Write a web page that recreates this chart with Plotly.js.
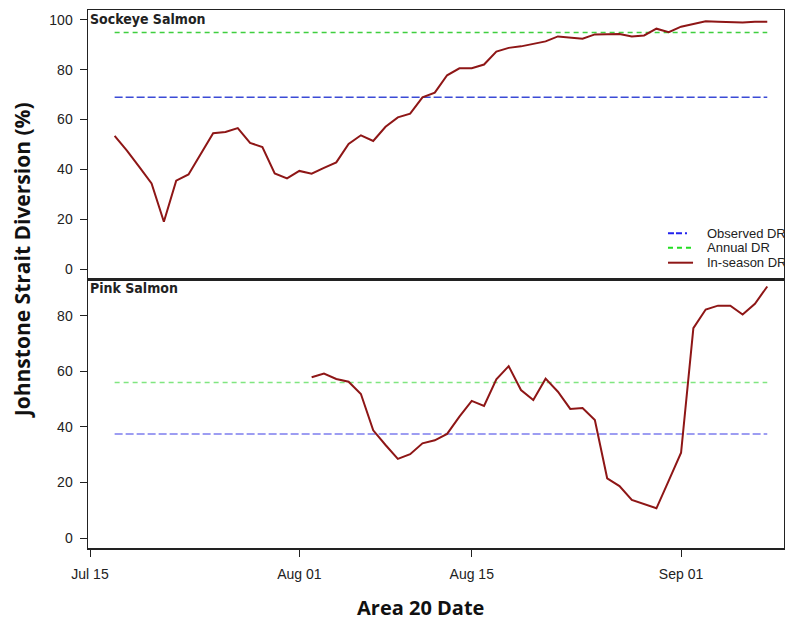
<!DOCTYPE html>
<html>
<head>
<meta charset="utf-8">
<script src="https://cdn.plot.ly/plotly-3.0.1.min.js"></script>
<style>
  html, body { margin: 0; padding: 0; background: #fff; }
  #chart { width: 785px; height: 623px; }
</style>
</head>
<body>
<div id="chart"></div>
<script>
// Daily in-season diversion rate estimates (%), Area 20 date
const sockeyeStart = '2013-07-17';
const sockeyeInSeason = [
  53.5, 47.5, 41.0, 34.4, 19.0, 35.5, 38.0, 46.5, 54.5, 55.0, 56.6, 50.6, 49.0, 38.4, 36.4,
  39.4, 38.3, 40.6, 42.8, 50.2, 53.7, 51.4, 57.1, 60.9, 62.4, 68.9, 70.8, 77.8, 80.6, 80.6,
  82.1, 87.3, 88.8, 89.4, 90.5, 91.4, 93.4, 92.9, 92.5, 94.2, 94.2, 94.4, 93.4, 93.8, 96.5, 95.1,
  97.3, 98.4, 99.5, 99.3, 99.2, 99.0, 99.3, 99.3
];
const pinkStart = '2013-08-02';
const pinkInSeason = [
  57.9, 59.2, 57.3, 56.3, 51.9, 38.8, 33.5, 28.5, 30.2, 34.1, 35.2, 37.5, 43.7, 49.4, 47.6,
  57.2, 61.9, 53.3, 49.7, 57.4, 52.7, 46.5, 46.8, 42.5, 21.5, 18.7, 13.7, 12.3, 10.7, 20.7,
  30.7, 75.6, 82.3, 83.7, 83.7, 80.5, 84.4, 90.6
];

// Reference diversion rates drawn across the season
const refSpan = ['2013-07-17', '2013-09-08'];
const sockeyeObservedDR = 69;
const sockeyeAnnualDR = 95;
const pinkObservedDR = 37.5;
const pinkAnnualDR = 56;

const panelTitles = ['Sockeye Salmon', 'Pink Salmon'];
const legendNames = ['Observed DR', 'Annual DR', 'In-season DR'];
const dateTicks = ['2013-07-15', '2013-08-01', '2013-08-15', '2013-09-01'];
const sockeyeTicks = [0, 20, 40, 60, 80, 100];
const pinkTicks = [0, 20, 40, 60, 80];

function dailyDates(start, n) {
  const out = [];
  const d0 = new Date(start + 'T00:00:00Z');
  for (let i = 0; i < n; i++) {
    const d = new Date(d0.getTime() + i * 86400000);
    out.push(d.toISOString().slice(0, 10));
  }
  return out;
}

const RED = '#8e1616';
const SANS = 'Liberation Sans, Arial, sans-serif';
const FRAME = '#222';

const traces = [
  // Sockeye panel (top)
  { x: refSpan, y: [sockeyeAnnualDR, sockeyeAnnualDR], xaxis: 'x2', yaxis: 'y2', mode: 'lines',
    line: { color: '#3fcf3f', width: 1.5, dash: '5px,4px' }, name: legendNames[1] },
  { x: refSpan, y: [sockeyeObservedDR, sockeyeObservedDR], xaxis: 'x2', yaxis: 'y2', mode: 'lines',
    line: { color: '#3b4bd6', width: 1.5, dash: '8px,3px' }, name: legendNames[0] },
  { x: dailyDates(sockeyeStart, sockeyeInSeason.length), y: sockeyeInSeason, xaxis: 'x2', yaxis: 'y2',
    mode: 'lines', line: { color: RED, width: 2 }, name: legendNames[2] },
  // Pink panel (bottom)
  { x: refSpan, y: [pinkAnnualDR, pinkAnnualDR], xaxis: 'x', yaxis: 'y', mode: 'lines',
    line: { color: '#80e680', width: 1.5, dash: '5px,4px' }, name: legendNames[1] },
  { x: refSpan, y: [pinkObservedDR, pinkObservedDR], xaxis: 'x', yaxis: 'y', mode: 'lines',
    line: { color: '#7d7dee', width: 1.5, dash: '8px,3px' }, name: legendNames[0] },
  { x: dailyDates(pinkStart, pinkInSeason.length), y: pinkInSeason, xaxis: 'x', yaxis: 'y',
    mode: 'lines', line: { color: RED, width: 2 }, name: legendNames[2] }
];

const yCommon = {
  ticks: 'outside', ticklen: 7, tickwidth: 1, tickcolor: FRAME,
  showline: true, mirror: true, linecolor: FRAME, linewidth: 1.5,
  showgrid: false, zeroline: false, ticklabelstandoff: 4,
  tickfont: { family: SANS, size: 14, color: '#222' }
};

// Legend: line samples and labels in the lower right of the top panel
const legendRows = [0.5849, 0.5582, 0.5303];
const legendStyles = [
  { color: '#2222ee', dash: '6px,2px,6px,3px,2px,20px' },
  { color: '#22dd22', dash: '5px,4px' },
  { color: RED, dash: 'solid' }
];
const shapes = legendRows.map((y, i) => ({
  type: 'line', xref: 'paper', yref: 'paper', x0: 0.8333, x1: 0.8693, y0: y, y1: y,
  line: { color: legendStyles[i].color, width: 2, dash: legendStyles[i].dash }
}));

const annotations = legendRows.map((y, i) => ({
  xref: 'paper', yref: 'paper', x: 0.8865, y: y, xanchor: 'left', yanchor: 'middle',
  text: legendNames[i], showarrow: false,
  font: { family: SANS, size: 13, color: '#222' }
})).concat([
  { xref: 'paper', yref: 'paper', x: 0.0, y: 1.002, xanchor: 'left', yanchor: 'top',
    text: panelTitles[0], showarrow: false,
    font: { family: 'DejaVu Sans Condensed, DejaVu Sans, sans-serif', size: 14, color: '#222', weight: 'bold' } },
  { xref: 'paper', yref: 'paper', x: 0.0, y: 0.501, xanchor: 'left', yanchor: 'top',
    text: panelTitles[1], showarrow: false,
    font: { family: 'DejaVu Sans Condensed, DejaVu Sans, sans-serif', size: 14, color: '#222', weight: 'bold' } },
  { xref: 'paper', yref: 'paper', x: -0.0948, y: 0.535, xanchor: 'center', yanchor: 'middle',
    textangle: -90, text: 'Johnstone Strait Diversion (%)', showarrow: false,
    font: { family: 'Open Sans, sans-serif', size: 21, color: '#111', weight: 'bold' } },
  { xref: 'paper', yref: 'paper', x: 0.478, y: -0.1115, xanchor: 'center', yanchor: 'middle',
    text: 'Area 20 Date', showarrow: false,
    font: { family: 'Open Sans, sans-serif', size: 20, color: '#111', weight: 'bold' } }
]);

const layout = {
  width: 785, height: 623,
  margin: { l: 88, r: 1, t: 10, b: 75, autoexpand: false },
  paper_bgcolor: '#fff', plot_bgcolor: '#fff',
  showlegend: false,
  xaxis: {
    type: 'date', anchor: 'y', range: ['2013-07-14 20:06', '2013-09-09 08:38'],
    tickvals: dateTicks, tickformat: '%b %d',
    ticks: 'outside', ticklen: 7, tickwidth: 1, tickcolor: FRAME,
    showline: true, mirror: true, linecolor: FRAME, linewidth: 1.5,
    showgrid: false, zeroline: false, ticklabelstandoff: 6,
    tickfont: { family: SANS, size: 14, color: '#222' }
  },
  xaxis2: {
    type: 'date', anchor: 'y2', matches: 'x', showticklabels: false, ticks: '',
    showline: true, mirror: true, linecolor: FRAME, linewidth: 1.5,
    showgrid: false, zeroline: false
  },
  yaxis: Object.assign({ domain: [0, 0.5], range: [-3.6, 93.3], tickvals: pinkTicks, anchor: 'x' }, yCommon),
  yaxis2: Object.assign({ domain: [0.5, 1], range: [-4, 104], tickvals: sockeyeTicks, anchor: 'x2' }, yCommon),
  shapes: shapes,
  annotations: annotations
};

Plotly.newPlot('chart', traces, layout, { staticPlot: true, displayModeBar: false });
</script>
</body>
</html>
